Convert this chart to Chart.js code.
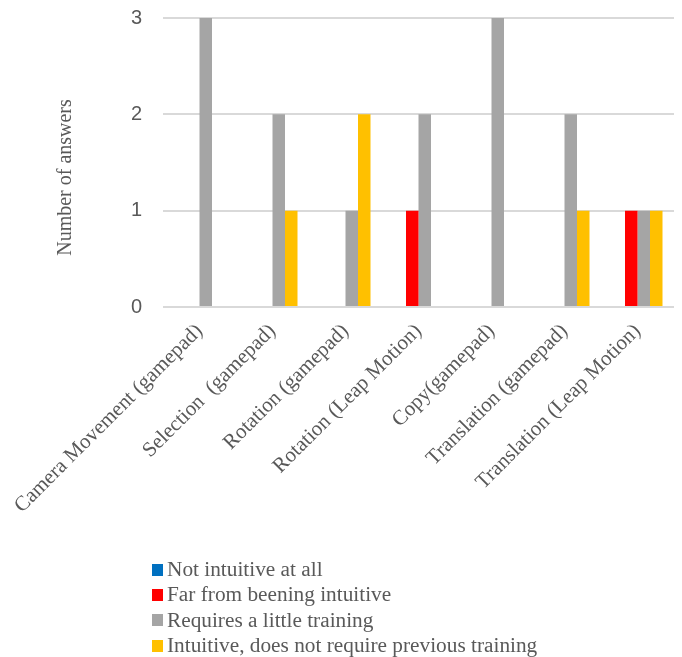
<!DOCTYPE html>
<html>
<head>
<meta charset="utf-8">
<script src="https://cdn.jsdelivr.net/npm/chart.js@4.4.1/dist/chart.umd.min.js"></script>
<style>
    body { margin: 0; background: #fff; }
    #wrap { position: relative; width: 682px; height: 657px; }
    #legend { position: absolute; left: 152px; top: 557px; font: 21.3px 'Liberation Serif', serif; color: #595959; }
    .item { height: 25.3px; display: flex; align-items: center; white-space: nowrap; }
    .box { width: 11px; height: 12px; margin-right: 4px; }
</style>
</head>
<body>
<div id="wrap">
    <canvas id="answersChart" width="682" height="657"></canvas>
    <div id="legend"></div>
</div>
<script>
// Categories (tasks) and answers per intuitiveness level
const tasks = [
    'Camera Movement (gamepad)',
    'Selection  (gamepad)',
    'Rotation (gamepad)',
    'Rotation (Leap Motion)',
    'Copy(gamepad)',
    'Translation (gamepad)',
    'Translation (Leap Motion)'
];
const notIntuitive = [0, 0, 0, 0, 0, 0, 0];
const farFromIntuitive = [0, 0, 0, 1, 0, 0, 1];
const littleTraining = [3, 2, 1, 2, 3, 2, 1];
const intuitive = [0, 1, 2, 0, 0, 1, 1];

const seriesNames = [
    'Not intuitive at all',
    'Far from beening intuitive',
    'Requires a little training',
    'Intuitive, does not require previous training'
];
const seriesColors = ['#0070C0', '#FF0000', '#A5A5A5', '#FFC000'];
const seriesValues = [notIntuitive, farFromIntuitive, littleTraining, intuitive];

const yTicks = [0, 1, 2, 3];

const textColor = '#595959';
const serif = "'Liberation Serif', 'Times New Roman', serif";

new Chart(document.getElementById('answersChart'), {
    type: 'bar',
    data: {
        labels: tasks,
        datasets: seriesNames.map((name, i) => ({
            label: name,
            data: seriesValues[i],
            backgroundColor: seriesColors[i],
            borderWidth: 0,
            categoryPercentage: 0.685,
            barPercentage: 1
        }))
    },
    options: {
        responsive: false,
        animation: false,
        layout: { padding: { top: 18, right: 8, left: 0, bottom: 0 } },
        plugins: {
            legend: { display: false },
            tooltip: { enabled: false }
        },
        scales: {
            x: {
                grid: { display: false },
                border: { display: false },
                ticks: {
                    color: textColor,
                    font: { family: serif, size: 21 },
                    minRotation: 45,
                    maxRotation: 45,
                    autoSkip: false,
                    padding: 4
                },
                afterFit: function(scale) { scale.height = 350; }
            },
            y: {
                min: yTicks[0],
                max: yTicks[yTicks.length - 1],
                border: { display: false },
                grid: { color: '#D9D9D9', lineWidth: 2, drawTicks: false },
                ticks: {
                    stepSize: 1,
                    color: textColor,
                    font: { family: "'Liberation Sans', sans-serif", size: 20 },
                    padding: 21
                },
                title: {
                    display: true,
                    text: 'Number of answers      ',
                    color: textColor,
                    font: { family: serif, size: 20 },
                    padding: { top: 54, bottom: 0 }
                },
                afterFit: function(scale) {
                    scale.width = 163;
                    // tick padding would otherwise push the plot area down
                    scale.paddingTop = 0;
                    scale.paddingBottom = 0;
                }
            }
        }
    }
});

// Vertical legend like the original
const legend = document.getElementById('legend');
seriesNames.forEach((name, i) => {
    const item = document.createElement('div');
    item.className = 'item';
    const box = document.createElement('span');
    box.className = 'box';
    box.style.background = seriesColors[i];
    const label = document.createElement('span');
    label.textContent = name;
    item.appendChild(box);
    item.appendChild(label);
    legend.appendChild(item);
});
</script>
</body>
</html>
